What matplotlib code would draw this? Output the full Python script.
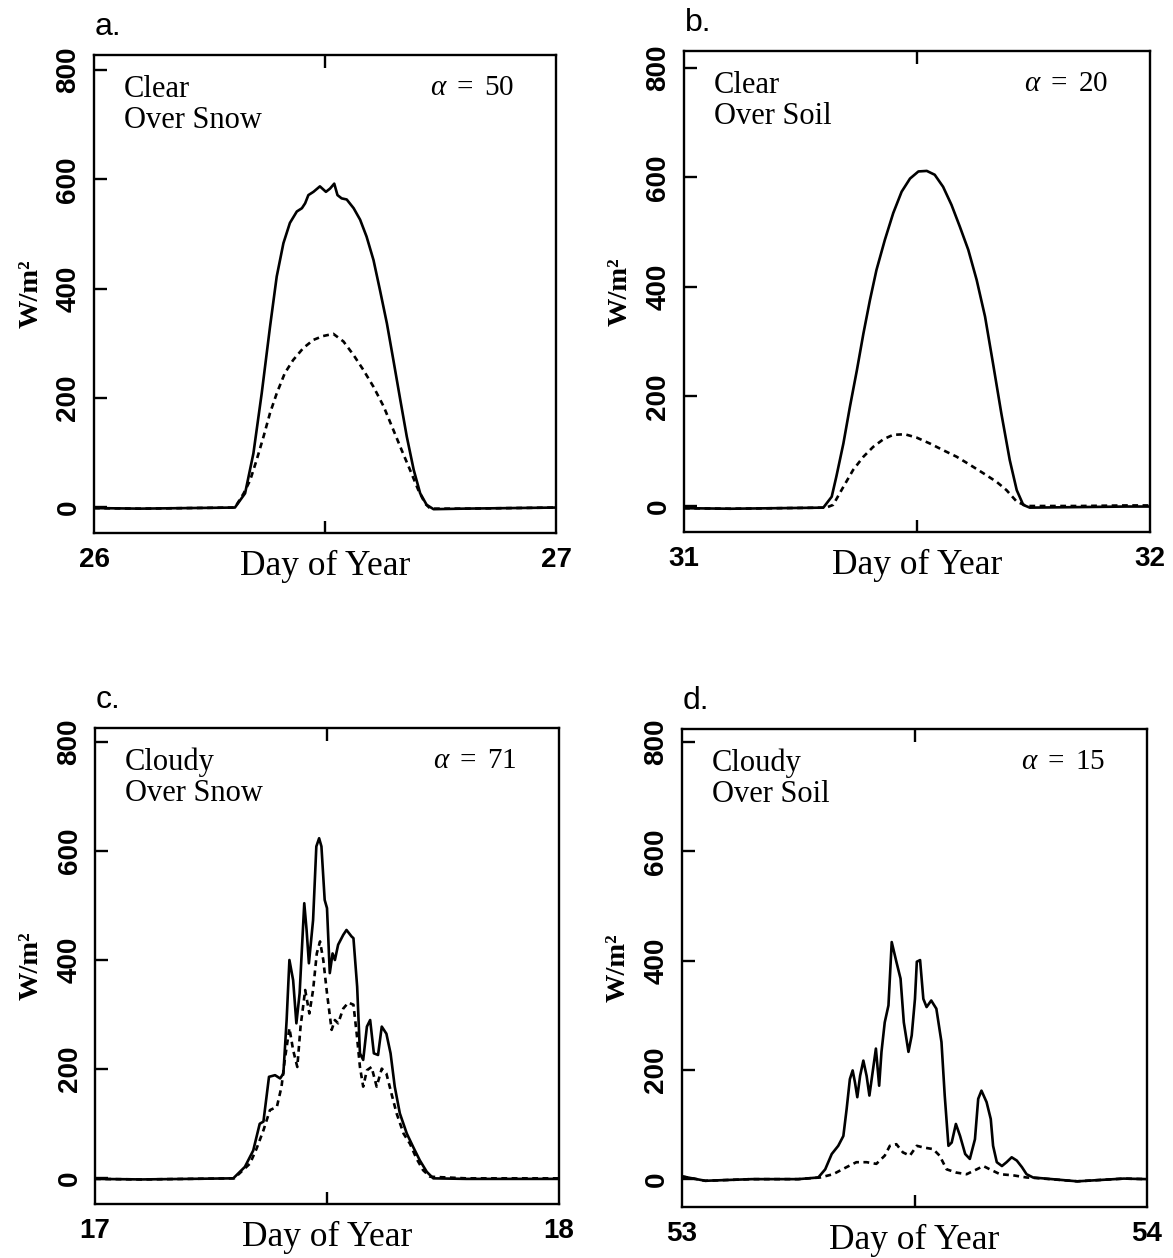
import matplotlib
matplotlib.use("Agg")
import matplotlib.pyplot as plt
from matplotlib.ticker import FixedLocator

plt.rcParams["mathtext.fontset"] = "custom"
plt.rcParams["mathtext.rm"] = "Liberation Serif"
plt.rcParams["mathtext.it"] = "Liberation Serif:italic"

# ---------------- data (fraction of day, W/m^2) ----------------
# Panel a: Clear over snow, days 26-27
a_solid_x = [0.00, 0.10, 0.20, 0.305, 0.327, 0.345, 0.363, 0.381, 0.3955, 0.410, 0.424, 0.439, 0.450,
             0.457, 0.464, 0.475, 0.489, 0.502, 0.511, 0.520, 0.527, 0.536, 0.547, 0.562, 0.576,
             0.590, 0.605, 0.619, 0.634, 0.648, 0.663, 0.677, 0.692, 0.706, 0.720, 0.735, 0.80,
             0.90, 1.00]
a_solid_y = [-2, -3, -2, -1, 25, 98, 208, 330, 422, 483, 520, 541, 547,
             556, 571, 577, 587, 577, 583, 592, 571, 565, 563, 547, 526,
             495, 452, 397, 336, 269, 196, 129, 68, 25, 4, -4, -3,
             -2, -1]
a_dash_x = [0.00, 0.10, 0.20, 0.305, 0.324, 0.338, 0.352, 0.367, 0.381, 0.3955, 0.413, 0.431, 0.453,
            0.475, 0.496, 0.518, 0.540, 0.562, 0.583, 0.605, 0.627, 0.648, 0.666, 0.684, 0.702,
            0.717, 0.728, 0.80, 0.90, 1.00]
a_dash_y = [-2, -3, -2, -1, 25, 49, 86, 129, 172, 208, 245, 269, 291,
            306, 313, 317, 303, 278, 251, 220, 184, 141, 104, 68, 31,
            6, -3, -3, -2, -1]

# Panel b: Clear over soil, days 31-32
b_solid_x = [0.00, 0.10, 0.20, 0.299, 0.317, 0.327, 0.342, 0.356, 0.371, 0.385, 0.399, 0.413, 0.431,
             0.449, 0.467, 0.485, 0.503, 0.521, 0.538, 0.556, 0.574, 0.592, 0.610, 0.628, 0.646,
             0.663, 0.681, 0.699, 0.714, 0.728, 0.742, 0.85, 0.95, 1.00]
b_solid_y = [-4, -5, -4, -3, 17, 54, 114, 181, 248, 315, 376, 431, 486,
             535, 574, 598, 611, 612, 605, 583, 550, 510, 468, 413, 346,
             261, 169, 84, 29, 2, -3, -2, -1, -1]
b_dash_x = [0.00, 0.10, 0.20, 0.305, 0.320, 0.342, 0.363, 0.385, 0.406, 0.428, 0.449, 0.474, 0.499,
            0.528, 0.556, 0.585, 0.614, 0.642, 0.671, 0.692, 0.714, 0.735, 0.85, 0.95, 1.00]
b_dash_y = [-4, -5, -4, -3, 2, 35, 66, 90, 108, 122, 130, 131, 125,
            114, 102, 90, 75, 60, 44, 29, 8, 0, 0, 1, 1]

# Panel c: Cloudy over snow, days 17-18
c_solid_x = [0.00, 0.10, 0.20, 0.298, 0.323, 0.341, 0.355, 0.363, 0.375, 0.388, 0.399, 0.406, 0.413,
             0.419, 0.427, 0.434, 0.441, 0.451, 0.456, 0.461, 0.470, 0.477, 0.483, 0.488, 0.495,
             0.500, 0.506, 0.512, 0.517, 0.524, 0.535, 0.542, 0.553, 0.557, 0.565, 0.571, 0.578,
             0.586, 0.593, 0.601, 0.610, 0.618, 0.628, 0.637, 0.646, 0.657, 0.672, 0.686, 0.700,
             0.715, 0.729, 0.80, 0.90, 1.00]
c_solid_y = [-1, -2, -1, 0, 21, 51, 100, 104, 186, 189, 183, 192, 290,
             400, 363, 284, 339, 504, 455, 394, 473, 608, 623, 608, 510,
             495, 376, 412, 400, 428, 446, 455, 443, 440, 351, 229, 217,
             278, 290, 229, 226, 278, 265, 229, 168, 119, 82, 57, 33,
             12, 0, -1, -1, -1]
c_dash_x = [0.00, 0.10, 0.20, 0.300, 0.334, 0.348, 0.363, 0.377, 0.392, 0.402, 0.409, 0.419, 0.427,
            0.436, 0.443, 0.453, 0.462, 0.470, 0.478, 0.485, 0.492, 0.500, 0.510, 0.517, 0.524,
            0.535, 0.546, 0.557, 0.564, 0.571, 0.578, 0.586, 0.596, 0.607, 0.618, 0.628, 0.639,
            0.650, 0.665, 0.679, 0.693, 0.707, 0.722, 0.80, 0.90, 1.00]
c_dash_y = [-1, -2, -1, 0, 27, 54, 88, 125, 131, 168, 217, 275, 235,
            204, 278, 345, 302, 345, 412, 434, 400, 339, 272, 290, 284,
            311, 322, 318, 265, 204, 168, 198, 204, 168, 201, 192, 155,
            119, 82, 63, 36, 15, 3, 0, 0, 0]

# Panel d: Cloudy over soil, days 53-54
d_solid_x = [0.00, 0.05, 0.15, 0.25, 0.293, 0.308, 0.322, 0.336, 0.347, 0.354, 0.361, 0.367, 0.372,
             0.377, 0.383, 0.390, 0.397, 0.403, 0.410, 0.417, 0.424, 0.429, 0.436, 0.444, 0.451,
             0.461, 0.470, 0.477, 0.487, 0.494, 0.501, 0.505, 0.512, 0.519, 0.526, 0.536, 0.547,
             0.558, 0.565, 0.573, 0.580, 0.589, 0.598, 0.609, 0.619, 0.630, 0.637, 0.644, 0.655,
             0.664, 0.669, 0.677, 0.688, 0.698, 0.709, 0.720, 0.731, 0.741, 0.755, 0.85, 0.95, 1.00]
d_solid_y = [5, -3, 0, 0, 3, 18, 46, 61, 79, 128, 183, 199, 177,
             150, 189, 217, 189, 153, 196, 239, 171, 233, 287, 318, 434,
             398, 367, 287, 233, 263, 330, 398, 401, 330, 315, 327, 312,
             251, 153, 61, 67, 101, 79, 46, 37, 73, 147, 162, 141,
             110, 61, 31, 24, 31, 40, 34, 22, 9, 3, -4, 1, 0]
d_dash_x = [0.00, 0.05, 0.15, 0.25, 0.297, 0.325, 0.354, 0.375, 0.397, 0.418, 0.436, 0.447, 0.461,
            0.475, 0.490, 0.505, 0.519, 0.540, 0.554, 0.569, 0.590, 0.612, 0.634, 0.648, 0.662,
            0.684, 0.712, 0.741, 0.762, 0.85, 0.95, 1.00]
d_dash_y = [5, -3, 0, 0, 3, 9, 22, 31, 31, 28, 43, 61, 64,
            49, 43, 61, 58, 55, 43, 18, 12, 9, 18, 24, 18,
            9, 7, 3, 2, -4, 1, 0]

start_days = [26, 31, 17, 53]
panel_letters = ["a.", "b.", "c.", "d."]
sky_labels = ["Clear", "Clear", "Cloudy", "Cloudy"]
surface_labels = ["Over Snow", "Over Soil", "Over Snow", "Over Soil"]
alpha_values = [50, 20, 71, 15]
y_ticks = [0, 200, 400, 600, 800]

panels = [
    (a_solid_x, a_solid_y, a_dash_x, a_dash_y),
    (b_solid_x, b_solid_y, b_dash_x, b_dash_y),
    (c_solid_x, c_solid_y, c_dash_x, c_dash_y),
    (d_solid_x, d_solid_y, d_dash_x, d_dash_y),
]

# ---------------- layout ----------------
W, H = 1173, 1258
boxes = [  # left, top, right, bottom in pixels
    (94, 55, 556, 533),
    (684, 51, 1150, 532),
    (95, 728, 559, 1204),
    (682, 729, 1147, 1207),
]
ylims = [(-47.6, 827.5), (-47.5, 831), (-47, 825), (-51, 824)]

SERIF = "Liberation Serif"
SANS = "Liberation Sans"

fig = plt.figure(figsize=(W / 100, H / 100), dpi=100)
fig.patch.set_facecolor("white")

for i, (sx, sy, dx, dy) in enumerate(panels):
    l, t, r, b = boxes[i]
    hpx = b - t
    ax = fig.add_axes([l / W, 1 - b / H, (r - l) / W, hpx / H])
    d0 = start_days[i]
    ax.plot([d0 + v for v in sx], sy, color="black", lw=1.9, solid_joinstyle="round")
    ax.plot([d0 + v for v in dx], dy, color="black", lw=1.9, linestyle=(0, (2.2, 1.7)))
    ax.set_xlim(d0, d0 + 1)
    ax.set_ylim(*ylims[i])

    for sp in ax.spines.values():
        sp.set_linewidth(1.7)

    ax.xaxis.set_major_locator(FixedLocator([d0, d0 + 1]))
    ax.set_xticklabels([str(d0), str(d0 + 1)], fontfamily=SANS, fontsize=20,
                       fontweight="bold")
    ax.xaxis.set_minor_locator(FixedLocator([d0 + 0.5]))
    ax.tick_params(axis="x", which="major", length=0, pad=10)
    ax.tick_params(axis="x", which="minor", direction="in", length=9, width=1.7,
                   top=True, bottom=True)

    ax.set_yticks(y_ticks)
    ax.set_yticklabels([str(v) for v in y_ticks], rotation=90, va="center",
                       fontfamily=SANS, fontsize=20, fontweight="bold")
    ax.tick_params(axis="y", which="major", direction="in", length=9, width=1.7,
                   left=True, right=False, pad=9)

    ax.set_ylabel("W/m²", fontfamily=SERIF, fontweight="bold", fontsize=20.5)
    ax.yaxis.set_label_coords(-0.11, 0.5)

    ax.text(0.5, 1 - 543 / 478 + (533 - t) / 478 * 0 + 0.0, "", transform=ax.transAxes)
    ax.text(0.5, -42 / hpx, "Day of Year", transform=ax.transAxes, ha="center",
            va="baseline", fontfamily=SERIF, fontsize=25.5)

    ax.text(30 / (r - l), 1 - 42 / hpx, sky_labels[i], transform=ax.transAxes, ha="left",
            va="baseline", fontfamily=SERIF, fontsize=22)
    ax.text(30 / (r - l), 1 - 73 / hpx, surface_labels[i], transform=ax.transAxes, ha="left",
            va="baseline", fontfamily=SERIF, fontsize=22)
    ax.text(1 - 42 / (r - l), 1 - 40 / hpx, r"$\alpha\ =\ 50$".replace("50", str(alpha_values[i])),
            transform=ax.transAxes, ha="right", va="baseline", fontsize=21)

    ax.text(1 / (r - l), 1 + 20 / hpx, panel_letters[i], transform=ax.transAxes, ha="left",
            va="baseline", fontfamily=SANS, fontsize=23)

fig.savefig("out.png", dpi=100, facecolor="white")
